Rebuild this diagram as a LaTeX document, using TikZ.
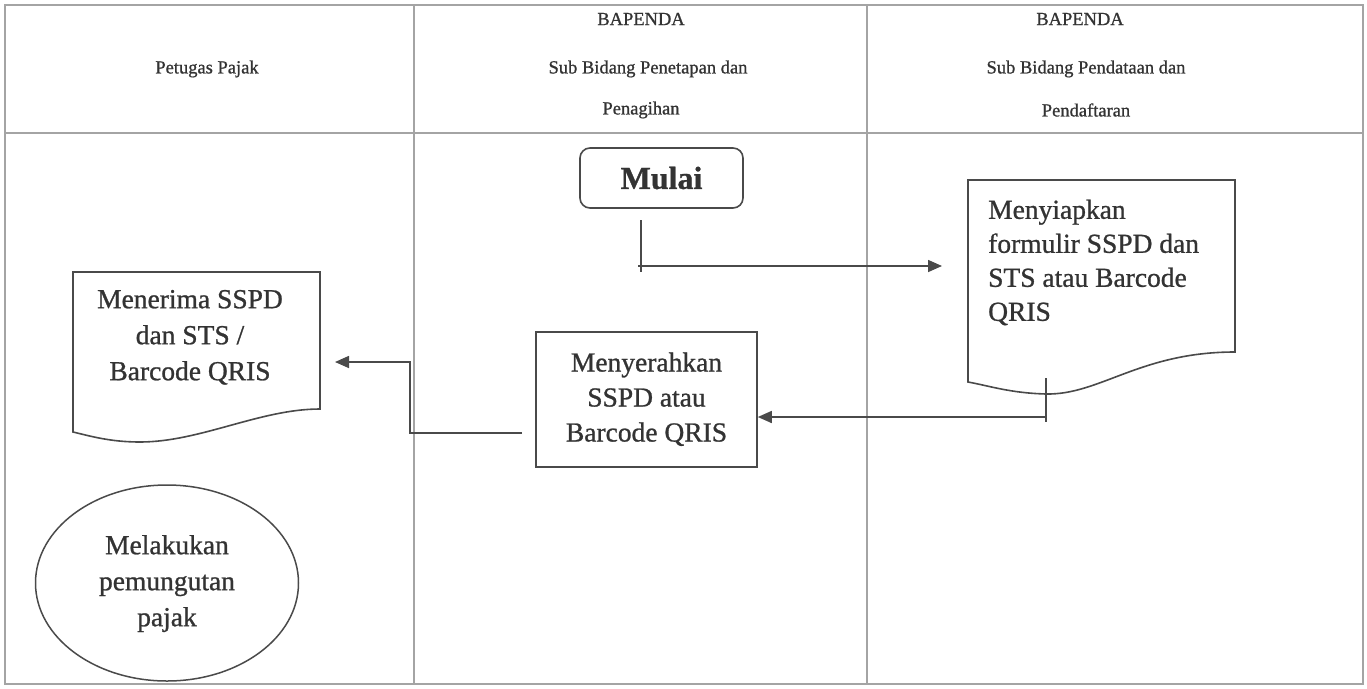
\documentclass[tikz,border=0pt]{standalone}
\usepackage{fontspec}
\setmainfont{Liberation Serif}
\newfontfamily\heavyfont{Liberation Serif}[FakeBold=0.9]
\usetikzlibrary{arrows.meta,shapes.geometric}
\definecolor{txt}{HTML}{333333}
\definecolor{gridc}{HTML}{A4A4A4}
\definecolor{shp}{HTML}{4A4A4A}
\newcommand{\bodyc}[2][35]{{\heavyfont\fontsize{27.5}{#1}\selectfont\begin{tabular}{@{}c@{}}#2\end{tabular}}}
\newcommand{\bodyl}[2][34]{{\heavyfont\fontsize{27.5}{#1}\selectfont\begin{tabular}{@{}l@{}}#2\end{tabular}}}
\newcommand{\headt}[1]{{\heavyfont\fontsize{18.5}{22}\selectfont #1}}
\tikzset{
  gridline/.style={draw=gridc, line width=1.6pt},
  shapeline/.style={draw=shp, line width=1.6pt},
  label/.style={text=txt, inner sep=0pt},
  startbox/.style={draw=shp, line width=1.6pt, rounded corners=10pt, minimum width=163pt, minimum height=60pt, inner sep=0pt, text=txt},
  procbox/.style={draw=shp, line width=1.6pt, minimum width=221pt, minimum height=135pt, inner sep=0pt, text=txt},
  termell/.style={ellipse, draw=shp, line width=1.5pt, minimum width=263pt, minimum height=196pt, inner sep=0pt, text=txt},
  conn/.style={draw=shp, line width=1.6pt},
  arr/.style={conn, -{Triangle[length=14pt,width=12pt]}}
}
\begin{document}
\begin{tikzpicture}[x=1pt,y=-1pt]
\useasboundingbox (0,0) rectangle (1367,688);
\fill[white] (0,0) rectangle (1367,688);
% table
\draw[gridline] (5,5) rectangle (1363,684);
\draw[gridline] (5,133) -- (1363,133);
\draw[gridline] (414,5) -- (414,684);
\draw[gridline] (867,5) -- (867,684);
% headers
\node[label] (h1) at (207,69) {\headt{Petugas Pajak}};
\node[label] (h2a) at (641,19) {\headt{BAPENDA}};
\node[label] (h2b) at (648,69) {\headt{Sub Bidang Penetapan dan}};
\node[label] (h2c) at (641,110) {\headt{Penagihan}};
\node[label] (h3a) at (1080,19) {\headt{BAPENDA}};
\node[label] (h3b) at (1086,69) {\headt{Sub Bidang Pendataan dan}};
\node[label] (h3c) at (1086,110) {\headt{Pendaftaran}};
% start
\node[startbox] (mulai) at (661.5,178) {{\heavyfont\fontsize{32}{38}\selectfont\bfseries Mulai}};
% document right
\draw[shapeline] (968,180) -- (1235,180) -- (1235,352) .. controls (1140,352) and (1100,395) .. (1046,394) .. controls (1010,393) and (990,386) .. (968,382) -- cycle;
\node[label, anchor=west] (t2) at (988,263) {\bodyl{Menyiapkan\\formulir SSPD dan\\STS atau Barcode\\QRIS}};
% process box
\node[procbox] (serah) at (646.5,399.5) {\bodyc{Menyerahkan\\SSPD atau\\Barcode QRIS}};
% document left
\draw[shapeline] (73,272) -- (320,272) -- (320,409) .. controls (260,409) and (200,442) .. (140,442) .. controls (110,442) and (90,436) .. (73,432) -- cycle;
\node[label] (t1) at (190,337) {\bodyc[36]{Menerima SSPD\\dan STS /\\Barcode QRIS}};
% ellipse
\node[termell] (pungut) at (167,583) {\bodyc[36]{Melakukan\\pemungutan\\pajak}};
% connectors
\coordinate (a1) at (641,220);
\coordinate (a2) at (641,272);
\coordinate (a3) at (638,266);
\coordinate (a4) at (942,266);
\draw[conn] (a1) -- (a2);
\draw[arr] (a3) -- (a4);
\coordinate (b1) at (1046,378);
\coordinate (b2) at (1046,422);
\coordinate (b3) at (1046,417);
\coordinate (b4) at (serah.east |- b3);
\draw[conn] (b1) -- (b2);
\draw[arr] (b3) -- (b4);
\coordinate (c1) at (522,433);
\coordinate (c2) at (410,433);
\coordinate (c3) at (410,362);
\coordinate (c4) at (335,362);
\draw[arr] (c1) -- (c2) -- (c3) -- (c4);
\end{tikzpicture}
\end{document}
